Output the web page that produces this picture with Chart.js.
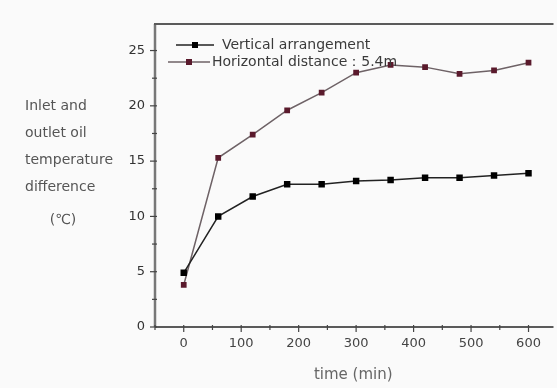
<!DOCTYPE html>
<html><head><meta charset="utf-8">
<script src="https://cdn.jsdelivr.net/npm/chart.js@4.4.1/dist/chart.umd.min.js"></script>
<style>html,body{margin:0;padding:0;background:#fafafa;}#wrap{width:557px;height:388px;position:relative;}</style>
</head><body><div id="wrap"><canvas id="c" width="557" height="388"></canvas></div>
<script>
const times = [0, 60, 120, 180, 240, 300, 360, 420, 480, 540, 600];
const verticalArrangement = [4.9, 10.0, 11.8, 12.9, 12.9, 13.2, 13.3, 13.5, 13.5, 13.7, 13.9];
const horizontalDistance = [3.8, 15.3, 17.4, 19.6, 21.2, 23.0, 23.7, 23.5, 22.9, 23.2, 23.9];
const xTicks = [0, 100, 200, 300, 400, 500, 600];
const yTicks = [0, 5, 10, 15, 20, 25];
const seriesNames = ['Vertical arrangement', 'Horizontal distance：5.4m'];
const yTitleLines = ['Inlet and', 'outlet oil', 'temperature', 'difference', '(\u2103)'];
const xTitle = 'time (min)';

const FONT = '"DejaVu Sans", Verdana, sans-serif';
const decor = {
  id: 'decor',
  afterDraw(chart) {
    const {ctx, chartArea: a, scales: {x, y}} = chart;
    ctx.save();
    // frame
    ctx.strokeStyle = '#777'; ctx.lineWidth = 2.5;
    ctx.beginPath(); ctx.moveTo(a.left, a.bottom); ctx.lineTo(a.left, a.top); ctx.stroke();
    ctx.strokeStyle = '#5a5a5a'; ctx.lineWidth = 2;
    ctx.beginPath(); ctx.moveTo(a.left - 1, a.top); ctx.lineTo(a.right + 2, a.top); ctx.stroke();
    ctx.beginPath(); ctx.moveTo(a.left, a.bottom); ctx.lineTo(a.right + 2, a.bottom); ctx.stroke();
    // ticks
    ctx.lineWidth = 1.2; ctx.strokeStyle = '#444';
    for (let v = 0; v <= 27; v += 2.5) {
      const py = y.getPixelForValue(v); const len = (v % 5 === 0) ? 5 : 3;
      ctx.beginPath(); ctx.moveTo(a.left - len, py); ctx.lineTo(a.left + 2, py); ctx.stroke();
    }
    for (let v = -50; v <= 640; v += 50) {
      const px = x.getPixelForValue(v); const len = (v % 100 === 0) ? 5 : 3;
      ctx.beginPath(); ctx.moveTo(px, a.bottom - 2); ctx.lineTo(px, a.bottom + len); ctx.stroke();
    }
    // y title
    ctx.fillStyle = '#555'; ctx.font = '14px ' + FONT; ctx.textAlign = 'left'; ctx.textBaseline = 'middle';
    const ys = [106, 133, 160, 187];
    for (let i = 0; i < 4; i++) ctx.fillText(yTitleLines[i], 25, ys[i]);
    ctx.textAlign = 'center'; ctx.fillText(yTitleLines[4], 63, 220);
    // legend
    const ds = chart.data.datasets;
    const rows = [45, 62];
    ctx.font = '14px ' + FONT; ctx.textAlign = 'left';
    ds.forEach((d, i) => {
      const ry = rows[i];
      const x0 = i === 0 ? 176 : 168, x1 = i === 0 ? 214 : 210;
      ctx.strokeStyle = d.borderColor; ctx.lineWidth = 1.5;
      ctx.beginPath(); ctx.moveTo(x0, ry); ctx.lineTo(x1, ry); ctx.stroke();
      ctx.fillStyle = d.pointBackgroundColor;
      const mx = (x0 + x1) / 2; ctx.fillRect(mx - 3, ry - 3, 6, 6);
      ctx.fillStyle = '#3a3a3a';
      ctx.fillText(seriesNames[i], i === 0 ? 222 : 212, ry);
    });
    ctx.restore();
  }
};

new Chart(document.getElementById('c'), {
  type: 'line',
  data: {
    labels: times,
    datasets: [
      {label: seriesNames[0], data: times.map((t, i) => ({x: t, y: verticalArrangement[i]})),
       borderColor: '#222', backgroundColor: '#111', pointBackgroundColor: '#000', pointBorderColor: '#000',
       borderWidth: 1.5, pointStyle: 'rect', pointRadius: 3.5, tension: 0},
      {label: seriesNames[1], data: times.map((t, i) => ({x: t, y: horizontalDistance[i]})),
       borderColor: '#6e6266', backgroundColor: '#5a1a2c', pointBackgroundColor: '#5a1a2c', pointBorderColor: '#5a1a2c',
       borderWidth: 1.5, pointStyle: 'rect', pointRadius: 3, tension: 0}
    ]
  },
  options: {
    responsive: false, animation: false, devicePixelRatio: 1,
    layout: {padding: {left: 0, right: 0, top: 24, bottom: 0}},
    plugins: {legend: {display: false}, tooltip: {enabled: false}},
    scales: {
      x: {type: 'linear', min: -50, max: 640,
          afterBuildTicks: s => { s.ticks = xTicks.map(v => ({value: v})); },
          afterFit: s => { s.height = 61; },
          grid: {display: false, drawTicks: false}, border: {display: false},
          ticks: {color: '#444', font: {size: 13, family: FONT}, padding: 9},
          title: {display: true, text: xTitle, color: '#666', font: {size: 15, family: FONT}, padding: {top: 10}}},
      y: {min: 0, max: 27.4,
          afterBuildTicks: s => { s.ticks = yTicks.map(v => ({value: v})); },
          afterFit: s => { s.width = 155; },
          grid: {display: false, drawTicks: false}, border: {display: false},
          ticks: {color: '#333', font: {size: 13, family: FONT}, padding: 10}}
    }
  },
  plugins: [decor]
});
</script></body></html>
